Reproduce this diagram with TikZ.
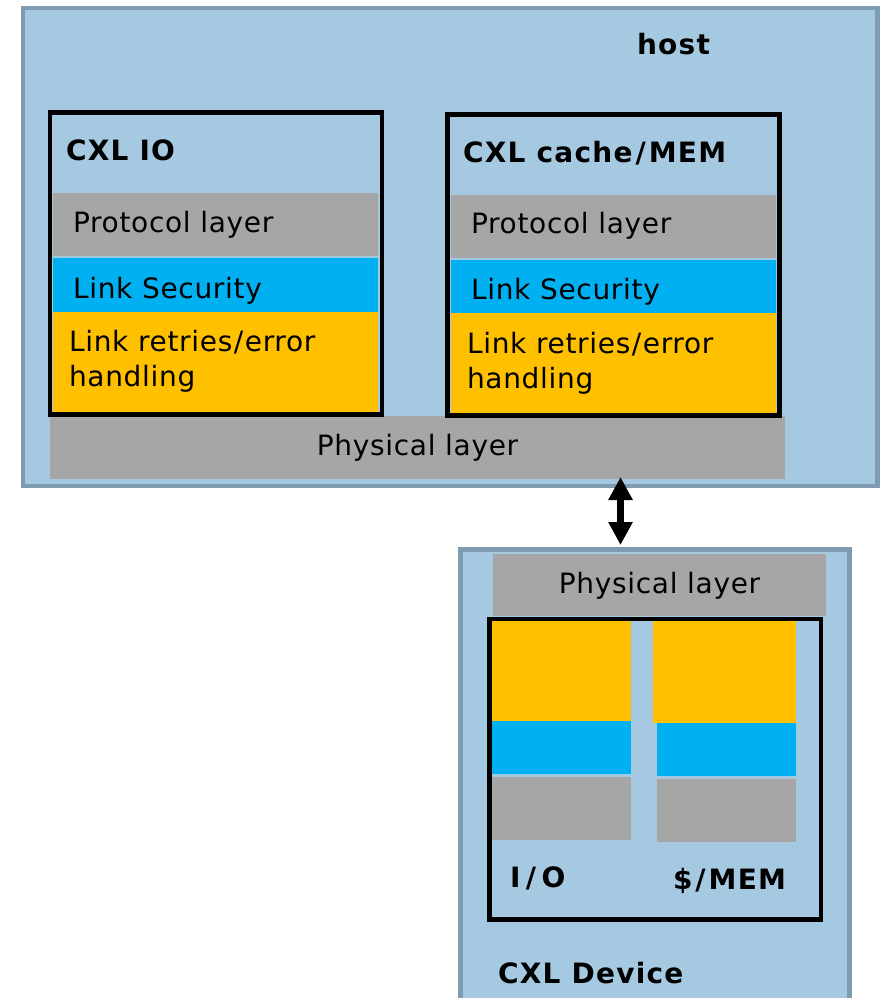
\documentclass[tikz,border=0pt]{standalone}
\usepackage{fontspec}
\setmainfont{DejaVu Sans}[LetterSpace=2.5, BoldFeatures={LetterSpace=4.5}]
\usetikzlibrary{arrows.meta}
\definecolor{panelblue}{HTML}{A6C9E2}
\definecolor{panelframe}{HTML}{7F9BB0}
\definecolor{layergrey}{HTML}{A6A6A6}
\definecolor{secblue}{HTML}{00B0F0}
\definecolor{retryyellow}{HTML}{FFC000}
% slash with the wider side bearings used in the bold labels
\newcommand{\wideslash}[1][3pt]{\kern#1/\kern#1}

\begin{document}
\begin{tikzpicture}[x=1pt,y=-1pt,
  panel/.style={rectangle, draw=panelframe, line width=4.5pt, fill=panelblue,
    inner sep=0pt, outer sep=0pt, anchor=north west},
  stackframe/.style={rectangle, draw=black, line width=4.5pt,
    inner sep=0pt, outer sep=0pt, anchor=north west},
  band/.style={rectangle, draw=none, inner sep=0pt, outer sep=0pt, anchor=north west},
  protoband/.style={band, fill=layergrey},
  secband/.style={band, fill=secblue},
  retryband/.style={band, fill=retryyellow},
  lbl/.style={inner sep=0pt, outer sep=0pt, anchor=base west,
    font=\fontsize{28}{34}\selectfont},
  title/.style={lbl, font=\fontsize{28}{34}\selectfont\bfseries},
  linkarrow/.style={line width=7pt,
    {Triangle[width=23pt,length=23pt]}-{Triangle[width=23pt,length=23pt]}},
]
\useasboundingbox (0,0) rectangle (886,998);
\clip (0,0) rectangle (886,998);

% ---------------- host ----------------
\node[panel, minimum width=854.5pt, minimum height=478pt] (host) at (23,8) {};
\node[title] (hostlbl) at (637,55) {host};

\node[protoband, minimum width=735pt, minimum height=63pt] (hostphy) at (50,416) {};
\node[lbl, anchor=base] (hostphytxt) at (417.5,455) {Physical layer};

% CXL IO stack
\node[protoband, minimum width=325pt, minimum height=63pt]  (ioproto) at (53,193) {};
\node[secband,   minimum width=325pt, minimum height=54pt]  (iosec)   at (53,258) {};
\node[retryband, minimum width=325pt, minimum height=101pt] (ioretry) at (53,312) {};
\node[stackframe, minimum width=332pt, minimum height=302pt] (io) at (50,112.5) {};
\node[title] (iotitle)  at (66,160)  {CXL IO};
\node[lbl]   (ioprotot) at (73,232)  {Protocol layer};
\node[lbl]   (iosect)   at (73,298)  {Link Security};
\node[lbl]   (ioretryA) at (69,351)  {Link retries\kern1.5pt/\kern1.5pt error};
\node[lbl]   (ioretryB) at (69,386)  {handling};

% CXL cache/MEM stack
\node[protoband, minimum width=325pt, minimum height=63pt]  (cmproto) at (451,195) {};
\node[secband,   minimum width=325pt, minimum height=53pt]  (cmsec)   at (451,260) {};
\node[retryband, minimum width=325pt, minimum height=101pt] (cmretry) at (451,313) {};
\node[stackframe, minimum width=332pt, minimum height=301pt] (cm) at (447.5,114.5) {};
\node[title] (cmtitle)  at (463,162) {CXL cache\wideslash MEM};
\node[lbl]   (cmprotot) at (471,233) {Protocol layer};
\node[lbl]   (cmsect)   at (471,299) {Link Security};
\node[lbl]   (cmretryA) at (467,353) {Link retries\kern1.5pt/\kern1.5pt error};
\node[lbl]   (cmretryB) at (467,388) {handling};

% ---------------- device ----------------
\node[panel, minimum width=389pt, minimum height=500pt] (dev) at (460.5,549.5) {};
\node[protoband, minimum width=333pt, minimum height=62pt] (devphy) at (493,554) {};
\node[lbl, anchor=base] (devphytxt) at (659.5,593) {Physical layer};

\node[retryband, minimum width=139pt, minimum height=102pt] (dioretry) at (492,619) {};
\node[secband,   minimum width=139pt, minimum height=53pt]  (diosec)   at (492,721) {};
\node[protoband, minimum width=139pt, minimum height=63pt]  (dioproto) at (492,777) {};

\node[retryband, minimum width=143pt, minimum height=104pt] (dcmretry) at (653,619) {};
\node[secband,   minimum width=139pt, minimum height=53pt]  (dcmsec)   at (657,723) {};
\node[protoband, minimum width=139pt, minimum height=63pt]  (dcmproto) at (657,779) {};

\node[stackframe, minimum width=331.5pt, minimum height=300.5pt] (devstack) at (489.5,619) {};
\node[title] (diolbl)  at (510,887) {I\wideslash[5.5pt]O};
\node[title] (dcmlbl)  at (673,889) {\$\wideslash MEM};
\node[title, font=\fontsize{28}{34}\selectfont\bfseries\addfontfeatures{LetterSpace=2.5}]
  (devlbl) at (498,983) {CXL Device};

% ---------------- link ----------------
\coordinate (linktop) at (620.5,477);
\coordinate (linkbot) at (620.5,545);
\draw[linkarrow] (linktop) -- (linkbot);
\end{tikzpicture}
\end{document}
